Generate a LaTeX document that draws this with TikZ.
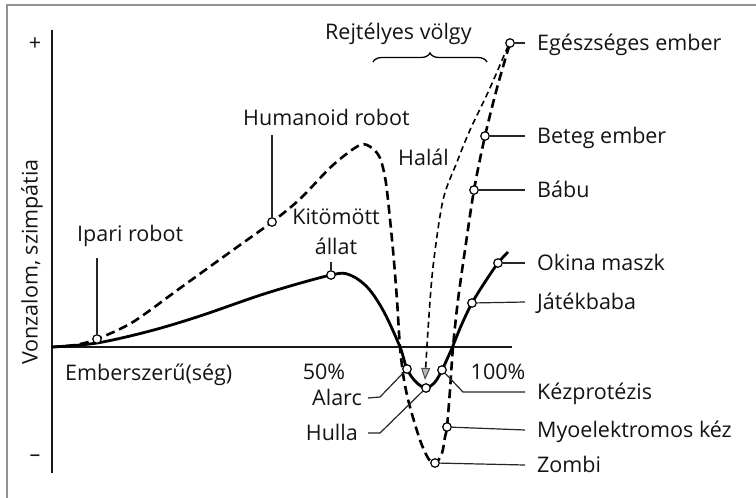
\documentclass[tikz,border=0pt]{standalone}
\usepackage{fontspec}
\setmainfont{Open Sans}
\usetikzlibrary{arrows.meta,decorations.pathreplacing}
\begin{document}
\begin{tikzpicture}[x=1pt,y=-1pt,
  lbl/.style={inner sep=0pt, text height=15.5pt, text depth=0pt, font=\fontsize{21.5}{30}\selectfont, text=black!92},
  mk/.style={circle, draw=black, fill=white, line width=1.2pt, inner sep=0pt, minimum size=8.5pt},
  conn/.style={draw=black!85, line width=1.2pt},
  axisline/.style={line width=2pt, draw=black!90},
  solidcurve/.style={line width=2.8pt, line join=round},
  dashcurve/.style={line width=2.6pt, dash pattern=on 9pt off 5pt},
  thindash/.style={line width=1.6pt, dash pattern=on 6pt off 4pt},
]
\useasboundingbox (0,0) rectangle (756,498);
\fill[white] (0,0) rectangle (756,498);
\coordinate (frBL) at (7,498); \coordinate (frTL) at (7,5); \coordinate (frTR) at (756,5);
\draw[gray!85, line width=2pt] (frBL) -- (frTL) -- (frTR);

% axes
\coordinate (yTop) at (52,30); \coordinate (yBot) at (52,473);
\coordinate (orig) at (52,347); \coordinate (xEnd) at (512,347);
\draw[axisline] (yTop) -- (yBot);
\draw[axisline] (orig) -- (xEnd);

% solid curve
\draw[solidcurve] plot[smooth, tension=0.55] coordinates {
 (52,347) (97,343) (150,331) (200,316) (267,293) (331,275) (350,275) (368,288)
 (384,312) (400,347) (407,369) (416,382) (426,388) (435,382) (442,370) (452,348)
 (461,326) (472,303) (485,282) (498,263) (508,252)};

% dashed humanoid curve
\draw[dashcurve] plot[smooth, tension=0.5] coordinates {
 (52,347) (75,345) (97,339) (133,322) (183,286) (233,250) (272,222) (300,199)
 (333,165) (360,145) (372,148) (380,158) (385,177) (388,200) (393,250) (397,300)
 (400,347) (404,380) (410,407) (420,440) (428,458) (435,464) (442,453) (445,437)
 (447,427) (450,390) (453,347) (458,300) (465,250) (474,190) (485,136) (497,88) (510,43)};

% thin dashed arrow (Halal)
\draw[thindash, -{Triangle[length=12pt,width=9pt,fill=gray!55,color=black!70,line width=1pt]}]
 plot[smooth, tension=0.5] coordinates {
 (508,46) (490,88) (470,130) (457,162) (443,200) (433,267) (428,330) (425,380)};

% brace
\coordinate (brL) at (373,62); \coordinate (brR) at (487,62);
\draw[decorate, decoration={brace, amplitude=9pt}, line width=1.3pt] (brL) -- (brR);

% markers
\node[mk] (ipari) at (97,339) {};
\node[mk] (hum) at (272,222) {};
\node[mk] (kit) at (331,275) {};
\node[mk] (alarc) at (407,369) {};
\node[mk] (hulla) at (426,388) {};
\node[mk] (kez) at (442,370) {};
\node[mk] (myo) at (447,427) {};
\node[mk] (zombi) at (435,463) {};
\node[mk] (jatek) at (472,303) {};
\node[mk] (okina) at (498,263) {};
\node[mk] (babu) at (474,190) {};
\node[mk] (beteg) at (485,136) {};
\node[mk] (egesz) at (510,43) {};

% texts
\node[lbl] (plus) at (35,43) {+};
\node[lbl] (minus) at (35,454) {–};
\node[lbl, rotate=90] (ylab) at (30,262) {Vonzalom, szimpátia};
\node[lbl, anchor=west] (xlab) at (65,373) {Emberszerű(ség)};
\node[lbl] (p50) at (324,372) {50\%};
\node[lbl] (p100) at (498,372) {100\%};
\node[lbl, anchor=west] (rejtT) at (325,32) {Rejtélyes völgy};
\node[lbl, anchor=west] (humT) at (243,118) {Humanoid robot};
\node[lbl, anchor=west] (ipariT) at (77,234) {Ipari robot};
\node[lbl, anchor=west] (halalT) at (398,158) {Halál};
\node[font=\fontsize{21.5}{30}\selectfont, text=black!92, align=center, inner sep=0pt, anchor=south] (kitT) at (336,255) {Kitömött\\állat};
\node[lbl, anchor=east] (alarcT) at (362,398) {Alarc};
\node[lbl, anchor=east] (hullaT) at (358,433) {Hulla};
\node[lbl, anchor=west] (egeszT) at (537,43) {Egészséges ember};
\node[lbl, anchor=west] (betegT) at (537,136) {Beteg ember};
\node[lbl, anchor=west] (babuT) at (537,190) {Bábu};
\node[lbl, anchor=west] (okinaT) at (537,263) {Okina maszk};
\node[lbl, anchor=west] (jatekT) at (537,302) {Játékbaba};
\node[lbl, anchor=west] (kezT) at (537,392) {Kézprotézis};
\node[lbl, anchor=west] (myoT) at (537,430) {Myoelektromos kéz};
\node[lbl, anchor=west] (zombiT) at (537,465) {Zombi};

% connectors
\coordinate (ipariTop) at (97,258);
\coordinate (humTop) at (272,135);
\coordinate (kitTop) at (331,262);
\coordinate (kezBend) at (463,392);
\coordinate (alarcBend) at (380,397);
\coordinate (hullaBend) at (380,433);
\draw[conn] (ipari) -- (ipariTop);
\draw[conn] (hum) -- (humTop);
\draw[conn] (kit) -- (kitTop);
\draw[conn] (egesz) -- ([xshift=-12pt]egeszT.west);
\draw[conn] (beteg) -- ([xshift=-12pt]betegT.west);
\draw[conn] (babu) -- ([xshift=-12pt]babuT.west);
\draw[conn] (okina) -- ([xshift=-12pt]okinaT.west);
\draw[conn] (jatek) -- ([xshift=-12pt]jatekT.west);
\draw[conn] (kez) -- (kezBend) -- ([xshift=-12pt]kezT.west);
\draw[conn] (myo) -- ([xshift=-12pt]myoT.west);
\draw[conn] (zombi) -- ([xshift=-12pt]zombiT.west);
\draw[conn] (alarc) -- (alarcBend) -- ([xshift=6pt]alarcT.east);
\draw[conn] (hulla) -- (hullaBend) -- ([xshift=10pt]hullaT.east);
\end{tikzpicture}
\end{document}
